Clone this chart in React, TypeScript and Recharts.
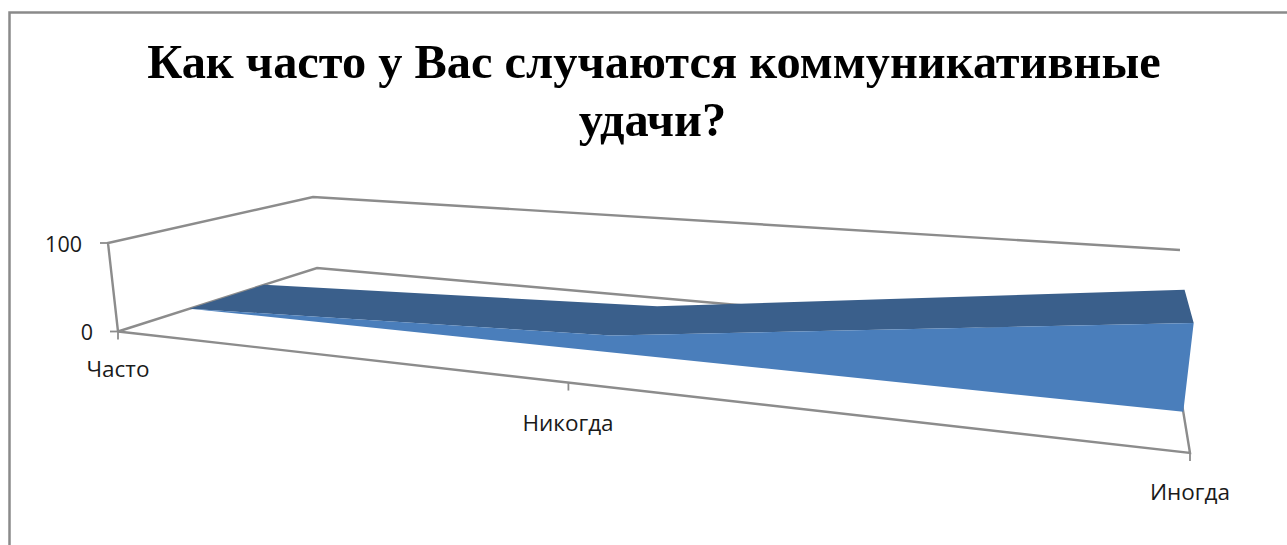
import React from "react";
import { ScatterChart, Scatter, XAxis, YAxis } from "recharts";

const W = 1287;
const H = 545;

// ---- data ----
const categories = ["Часто", "Никогда", "Иногда"];
const seriesValues = [0, 18, 81];
const valueTicks = [0, 100];
const titleLines = ["Как часто у Вас случаются коммуникативные", "удачи?"];

// ---- 3D frame (perspective) ----
type P = { x: number; y: number };
const categoryPos = [0, 0.4925, 1];
const DEPTH_FRONT = 0.31;
const DEPTH_BACK = 0.69;

function homography(p0: P, p1: P, p2: P, p3: P) {
  const sx = p0.x - p1.x + p2.x - p3.x;
  const sy = p0.y - p1.y + p2.y - p3.y;
  const dx1 = p1.x - p2.x, dx2 = p3.x - p2.x, dy1 = p1.y - p2.y, dy2 = p3.y - p2.y;
  const det = dx1 * dy2 - dx2 * dy1;
  const g = (sx * dy2 - dx2 * sy) / det;
  const h = (dx1 * sy - sx * dy1) / det;
  const a = p1.x - p0.x + g * p1.x, b = p3.x - p0.x + h * p3.x;
  const d = p1.y - p0.y + g * p1.y, e = p3.y - p0.y + h * p3.y;
  return (u: number, v: number): P => {
    const w = g * u + h * v + 1;
    return { x: (a * u + b * v + p0.x) / w, y: (d * u + e * v + p0.y) / w };
  };
}

const floor = homography(
  { x: 118, y: 331.5 }, { x: 1190, y: 453 }, { x: 1172, y: 343 }, { x: 317, y: 268 }
);
const ceil = homography(
  { x: 108, y: 243 }, { x: 1206, y: 334 }, { x: 1180, y: 250 }, { x: 313, y: 197 }
);
const project = (u: number, v: number, value: number): P => {
  const a = floor(u, v), b = ceil(u, v), t = value / 100;
  return { x: a.x + (b.x - a.x) * t, y: a.y + (b.y - a.y) * t };
};

// ---- faces, built from the series values ----
const topFront = seriesValues.map((val, i) => project(categoryPos[i], DEPTH_FRONT, val));
const topBack = seriesValues.map((val, i) => project(categoryPos[i], DEPTH_BACK, val));
const floorFrontLeft = project(0, DEPTH_FRONT, 0);
const floorFrontRight = project(1, DEPTH_FRONT, 0);

const frontFace = [...topFront, floorFrontRight, floorFrontLeft, topFront[0]];
const topFace = [...topFront, ...[...topBack].reverse(), topFront[0]];

// ---- frame lines ----
const frameLines: P[][] = [
  [project(0, 0, 0), project(1, 0, 0), project(1, 1, 0)],
  [project(0, 0, 0), project(0, 1, 0), project(1, 1, 0)],
  [project(0, 0, 0), project(0, 0, 100), project(0, 1, 100), project(1, 1, 100)],
];
const TICK = 8;
const tickLines: P[][] = [
  ...categoryPos.map((u) => {
    const p = project(u, 0, 0);
    return [p, { x: p.x, y: p.y + TICK }];
  }),
  ...valueTicks.map((val) => {
    const p = project(0, 0, val);
    return [{ x: p.x - TICK, y: p.y }, p];
  }),
];

const border: P[] = [
  { x: 9.5, y: H + 5 }, { x: 9.5, y: 12.5 }, { x: W + 5, y: 12.5 },
];

// ---- text ----
type T = P & { text: string; size: number; anchor: string; family: string; weight: number };
const SANS = "'Open Sans', 'Noto Sans', sans-serif";
const SERIF = "'Liberation Serif', serif";
const texts: T[] = [
  { text: titleLines[0], x: 654, y: 78, size: 48.4, anchor: "middle", family: SERIF, weight: 700 },
  { text: titleLines[1], x: 652.5, y: 136, size: 48.4, anchor: "middle", family: SERIF, weight: 700 },
  { text: String(valueTicks[1]), x: 82, y: 252, size: 21.5, anchor: "end", family: SANS, weight: 400 },
  { text: String(valueTicks[0]), x: 93, y: 340, size: 21.5, anchor: "end", family: SANS, weight: 400 },
  { text: categories[0], x: 118, y: 377, size: 22.5, anchor: "middle", family: SANS, weight: 400 },
  { text: categories[1], x: 568, y: 431, size: 22.5, anchor: "middle", family: SANS, weight: 400 },
  { text: categories[2], x: 1190, y: 500, size: 22.5, anchor: "middle", family: SANS, weight: 400 },
];

const noDot = () => <g />;
const TextMark = (props: any) => {
  const d = props.payload as T;
  return (
    <text
      x={props.cx}
      y={props.cy}
      textAnchor={d.anchor}
      fontFamily={d.family}
      fontWeight={d.weight}
      fontSize={d.size}
      fill={d.weight === 700 ? "#000000" : "#1a1a1a"}
    >
      {d.text}
    </text>
  );
};

export default function App() {
  return (
    <div style={{ position: "absolute", left: 0, top: 0, width: W, height: H, overflow: "hidden", background: "#fff" }}>
      <ScatterChart width={W} height={H} margin={{ top: 0, right: 0, bottom: 0, left: 0 }}>
        <XAxis type="number" dataKey="x" domain={[0, W]} hide allowDataOverflow />
        <YAxis type="number" dataKey="y" domain={[0, H]} reversed hide allowDataOverflow />
        <Scatter data={border} shape={noDot} line={{ stroke: "#8a8a8a", strokeWidth: 2.5, fill: "none" }} isAnimationActive={false} />
        {frameLines.map((pts, i) => (
          <Scatter key={i} data={pts} shape={noDot} line={{ stroke: "#8c8c8c", strokeWidth: 2.4, fill: "none" }} isAnimationActive={false} />
        ))}
        {tickLines.map((pts, i) => (
          <Scatter key={"t" + i} data={pts} shape={noDot} line={{ stroke: "#8c8c8c", strokeWidth: 1.8, fill: "none" }} isAnimationActive={false} />
        ))}
        <Scatter data={topFace} shape={noDot} line={{ fill: "#3a5f8b", stroke: "none" }} isAnimationActive={false} />
        <Scatter data={frontFace} shape={noDot} line={{ fill: "#4a7ebb", stroke: "none" }} isAnimationActive={false} />
        <Scatter data={texts} shape={TextMark} isAnimationActive={false} />
      </ScatterChart>
    </div>
  );
}
